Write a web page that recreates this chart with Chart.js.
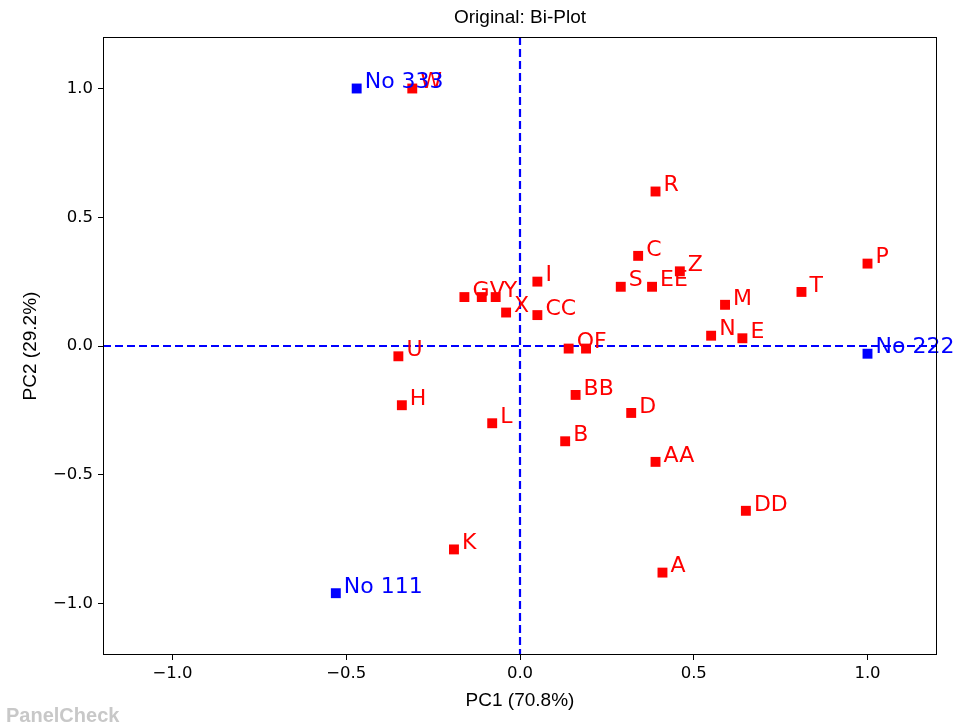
<!DOCTYPE html>
<html>
<head>
<meta charset="utf-8">
<script src="https://cdn.jsdelivr.net/npm/chart.js@4.4.0/dist/chart.umd.min.js"></script>
<style>
  body { margin: 0; background: #fff; }
  #wrap { width: 958px; height: 727px; position: relative; }
</style>
</head>
<body>
<div id="wrap"><canvas id="myChart" width="958" height="727"></canvas></div>
<script>
// sample scores (red) and assessor loadings (blue)
var objLabels = ["W", "R", "C", "Z", "S", "EE", "P", "T", "M", "N", "E", "I", "G", "V", "Y", "X", "CC",
                 "O", "F", "U", "H", "L", "BB", "D", "B", "AA", "DD", "K", "A"];
var objPC1 = [-0.31, 0.39, 0.34, 0.46, 0.29, 0.38, 1.00, 0.81, 0.59, 0.55, 0.64, 0.05, -0.16, -0.11, -0.07, -0.04, 0.05,
              0.14, 0.19, -0.35, -0.34, -0.08, 0.16, 0.32, 0.13, 0.39, 0.65, -0.19, 0.41];
var objPC2 = [1.00, 0.60, 0.35, 0.29, 0.23, 0.23, 0.32, 0.21, 0.16, 0.04, 0.03, 0.25, 0.19, 0.19, 0.19, 0.13, 0.12,
              -0.01, -0.01, -0.04, -0.23, -0.30, -0.19, -0.26, -0.37, -0.45, -0.64, -0.79, -0.88];

var assLabels = ["No 333", "No 222", "No 111"];
var assPC1 = [-0.47, 1.00, -0.53];
var assPC2 = [1.00, -0.03, -0.96];

var tickVals = [-1.0, -0.5, 0.0, 0.5, 1.0];

function toPts(xs, ys) {
  return xs.map(function(x, i) { return { x: x, y: ys[i] }; });
}

function fmt(v) {
  return v.toFixed(1).replace("-", "\u2212");
}

var frameAndText = {
  id: "frameAndText",
  beforeDatasetsDraw: function(chart) {
    var c = chart.ctx, a = chart.chartArea;
    var xs = chart.scales.x, ys = chart.scales.y;
    c.save();
    c.strokeStyle = "#0000ff";
    c.lineWidth = 2.2;
    c.setLineDash([8, 4]);
    c.beginPath();
    c.moveTo(xs.getPixelForValue(0), a.top);
    c.lineTo(xs.getPixelForValue(0), a.bottom);
    c.moveTo(a.left, ys.getPixelForValue(0));
    c.lineTo(a.right, ys.getPixelForValue(0));
    c.stroke();
    c.restore();
  },
  afterDatasetsDraw: function(chart) {
    var c = chart.ctx, a = chart.chartArea;
    c.save();
    chart.data.datasets.forEach(function(ds, di) {
      var meta = chart.getDatasetMeta(di);
      c.fillStyle = ds.labelColor;
      c.font = "22px 'DejaVu Sans'";
      c.textBaseline = "middle";
      c.textAlign = "left";
      meta.data.forEach(function(el, i) {
        c.fillText(ds.names[i], el.x + 8, el.y - 6);
      });
    });
    c.strokeStyle = "#000";
    c.lineWidth = 1;
    c.strokeRect(a.left + 0.5, a.top + 0.5, a.right - a.left - 1, a.bottom - a.top - 1);
    c.fillStyle = "#000";
    c.textAlign = "center";
    c.textBaseline = "middle";
    c.font = "19px 'Liberation Sans'";
    c.fillText("Original: Bi-Plot", (a.left + a.right) / 2, 18);
    c.fillText("PC1 (70.8%)", (a.left + a.right) / 2, 701);
    c.save();
    c.translate(31, (a.top + a.bottom) / 2);
    c.rotate(-Math.PI / 2);
    c.fillText("PC2 (29.2%)", 0, 0);
    c.restore();
    c.textAlign = "left";
    c.fillStyle = "#c8c8c8";
    c.font = "bold 20px 'Liberation Sans'";
    c.fillText("PanelCheck", 6, 716);
    c.restore();
  }
};

var ctx = document.getElementById("myChart");
var myChart = new Chart(ctx, {
  type: "scatter",
  data: {
    datasets: [{
      label: "Objects",
      names: objLabels,
      labelColor: "#ff0000",
      data: toPts(objPC1, objPC2),
      backgroundColor: "#ff0000",
      borderWidth: 0,
      pointStyle: "rect",
      pointRadius: 7,
      pointHoverRadius: 7
    }, {
      label: "Assessors",
      names: assLabels,
      labelColor: "#0000ff",
      data: toPts(assPC1, assPC2),
      backgroundColor: "#0000ff",
      borderWidth: 0,
      pointStyle: "rect",
      pointRadius: 7,
      pointHoverRadius: 7
    }]
  },
  options: {
    responsive: false,
    animation: false,
    layout: { padding: { top: 37, right: 21, left: 0, bottom: 0 } },
    plugins: { legend: { display: false }, tooltip: { enabled: false } },
    scales: {
      x: {
        min: -1.2, max: 1.2,
        afterBuildTicks: function(s) { s.ticks = tickVals.map(function(v) { return { value: v }; }); },
        afterFit: function(s) { s.height = 72; },
        grid: { drawOnChartArea: false, color: "#000", tickLength: 5, tickWidth: 1 },
        border: { display: false },
        ticks: { color: "#000", font: { family: "DejaVu Sans", size: 16.5 }, padding: 4, maxRotation: 0,
                 callback: function(v) { return fmt(v); } }
      },
      y: {
        min: -1.2, max: 1.2,
        afterBuildTicks: function(s) { s.ticks = tickVals.map(function(v) { return { value: v }; }); },
        afterFit: function(s) { s.width = 103; },
        grid: { drawOnChartArea: false, color: "#000", tickLength: 5, tickWidth: 1 },
        border: { display: false },
        ticks: { color: "#000", font: { family: "DejaVu Sans", size: 16.5 }, padding: 5,
                 callback: function(v) { return fmt(v); } }
      }
    }
  },
  plugins: [frameAndText]
});
</script>
</body>
</html>
